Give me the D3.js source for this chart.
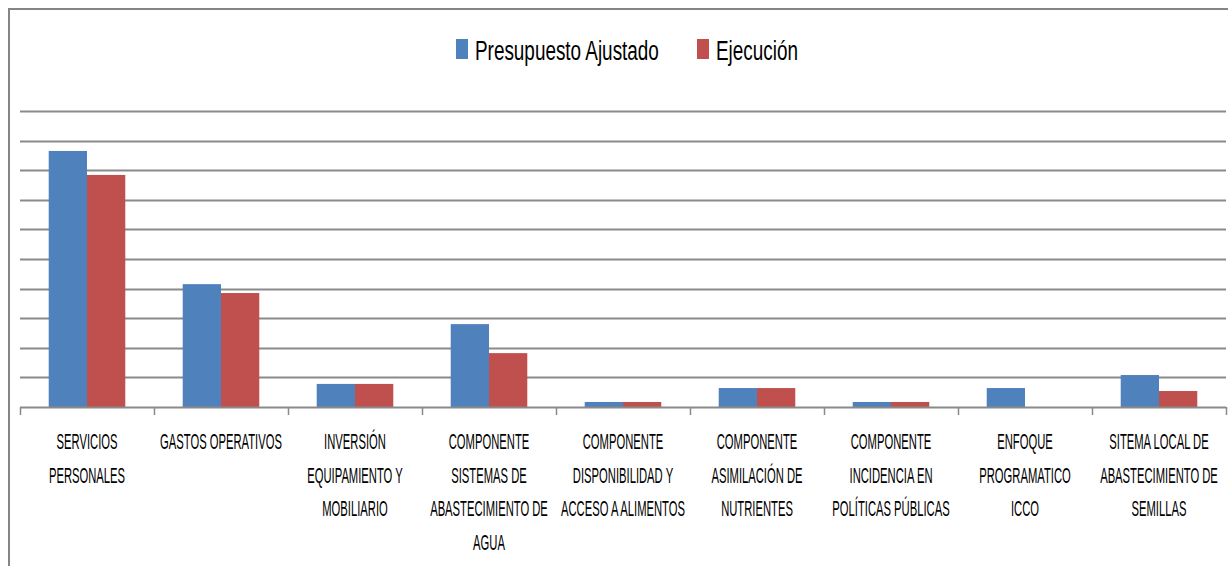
<!DOCTYPE html>
<html>
<head>
<meta charset="utf-8">
<script src="https://cdn.jsdelivr.net/npm/d3@7"></script>
<style>
  body { margin: 0; background: #fff; }
  svg { display: block; }
  text { font-family: "Liberation Sans Narrow", "Liberation Sans", Arial, sans-serif; fill: #000; }
</style>
</head>
<body>
<div id="chart"></div>
<script>
// categories (line breaks as in the picture)
var categories = [
  "SERVICIOS\nPERSONALES",
  "GASTOS OPERATIVOS",
  "INVERSIÓN\nEQUIPAMIENTO Y\nMOBILIARIO",
  "COMPONENTE\nSISTEMAS DE\nABASTECIMIENTO DE\nAGUA",
  "COMPONENTE\nDISPONIBILIDAD Y\nACCESO A ALIMENTOS",
  "COMPONENTE\nASIMILACIÓN DE\nNUTRIENTES",
  "COMPONENTE\nINCIDENCIA EN\nPOLÍTICAS PÚBLICAS",
  "ENFOQUE\nPROGRAMATICO\nICCO",
  "SITEMA LOCAL DE\nABASTECIMIENTO DE\nSEMILLAS"
];
var seriesNames = ["Presupuesto Ajustado", "Ejecución"];
// values (no axis labels, relative units)
var presupuesto = [8.65, 4.15, 0.78, 2.8, 0.17, 0.64, 0.17, 0.64, 1.08];
var ejecucion   = [7.84, 3.85, 0.78, 1.82, 0.17, 0.64, 0.17, 0, 0.54];
var gridTicks = [0, 1, 2, 3, 4, 5, 6, 7, 8, 9, 10];

var colors = ["#4F81BD", "#C0504D"];
var W = 1228, H = 566;
var plot = {left: 20, right: 1226, top: 111, bottom: 407};

var svg = d3.select("#chart").append("svg")
    .attr("width", W)
    .attr("height", H);

// outer frame
svg.append("rect")
    .attr("x", 9).attr("y", 9)
    .attr("width", 1240).attr("height", 620)
    .attr("fill", "none")
    .attr("stroke", "#858585")
    .attr("stroke-width", 2);

var x0 = d3.scaleBand()
    .domain(d3.range(categories.length))
    .range([plot.left, plot.right])
    .paddingInner(0)
    .paddingOuter(0);

// Excel style gap width 150%
var barW = x0.bandwidth() / 3.5;

var y = d3.scaleLinear()
    .domain([0, 10])
    .range([plot.bottom, plot.top]);

// gridlines
svg.append("g")
    .selectAll("line")
    .data(gridTicks.slice(1))
    .join("line")
    .attr("x1", plot.left).attr("x2", plot.right)
    .attr("y1", d => Math.round(y(d)) + 0.5)
    .attr("y2", d => Math.round(y(d)) + 0.5)
    .attr("stroke", "#8a8a8a")
    .attr("stroke-width", 2);

// bars
var rows = categories.map(function(c, i) { return [presupuesto[i], ejecucion[i]]; });
var groups = svg.append("g")
    .selectAll("g")
    .data(rows)
    .join("g")
    .attr("transform", (d, i) => "translate(" + (x0(i) + x0.bandwidth() / 2 - barW) + ",0)");
groups.selectAll("rect")
    .data(d => d)
    .join("rect")
    .attr("x", (d, j) => j * barW)
    .attr("y", d => y(d))
    .attr("width", barW)
    .attr("height", d => y(0) - y(d))
    .attr("fill", (d, j) => colors[j]);

// x axis with ticks between categories
var axisG = svg.append("g");
axisG.append("line")
    .attr("x1", plot.left).attr("x2", plot.right)
    .attr("y1", y(0) + 0.5).attr("y2", y(0) + 0.5)
    .attr("stroke", "#8a8a8a")
    .attr("stroke-width", 2);
axisG.selectAll("line.tk")
    .data(d3.range(categories.length + 1))
    .join("line")
    .attr("class", "tk")
    .attr("x1", i => (i < categories.length ? x0(i) : plot.right) + 0.5)
    .attr("x2", i => (i < categories.length ? x0(i) : plot.right) + 0.5)
    .attr("y1", y(0))
    .attr("y2", y(0) + 8)
    .attr("stroke", "#8a8a8a")
    .attr("stroke-width", 1.5);

// category labels, condensed like the original
var labelSize = 22;
var probe = svg.append("text").attr("font-size", labelSize).text("GASTOS OPERATIVOS");
var labelScale = 122 / probe.node().getComputedTextLength();
probe.remove();

var labels = svg.append("g")
    .selectAll("g")
    .data(categories)
    .join("g")
    .attr("transform", (d, i) => "translate(" + (x0(i) + x0.bandwidth() / 2) + ",449) scale(" + labelScale + ",1)");
labels.selectAll("text")
    .data(d => d.split("\n"))
    .join("text")
    .attr("y", (d, k) => k * 33.7)
    .attr("text-anchor", "middle")
    .attr("font-size", labelSize)
    .text(d => d);

// legend
var legendSize = 28;
var probe2 = svg.append("text").attr("font-size", legendSize).text(seriesNames[0]);
var legendScale = 184 / probe2.node().getComputedTextLength();
probe2.remove();

var legendX = [456, 697];
var legend = svg.append("g")
    .selectAll("g")
    .data(seriesNames)
    .join("g")
    .attr("transform", (d, i) => "translate(" + legendX[i] + ",0)");
legend.append("rect")
    .attr("x", 0).attr("y", 39)
    .attr("width", 12).attr("height", 20)
    .attr("fill", (d, i) => colors[i]);
legend.append("text")
    .attr("transform", "translate(19,60) scale(" + legendScale + ",1)")
    .attr("font-size", legendSize)
    .text(d => d);
</script>
</body>
</html>
